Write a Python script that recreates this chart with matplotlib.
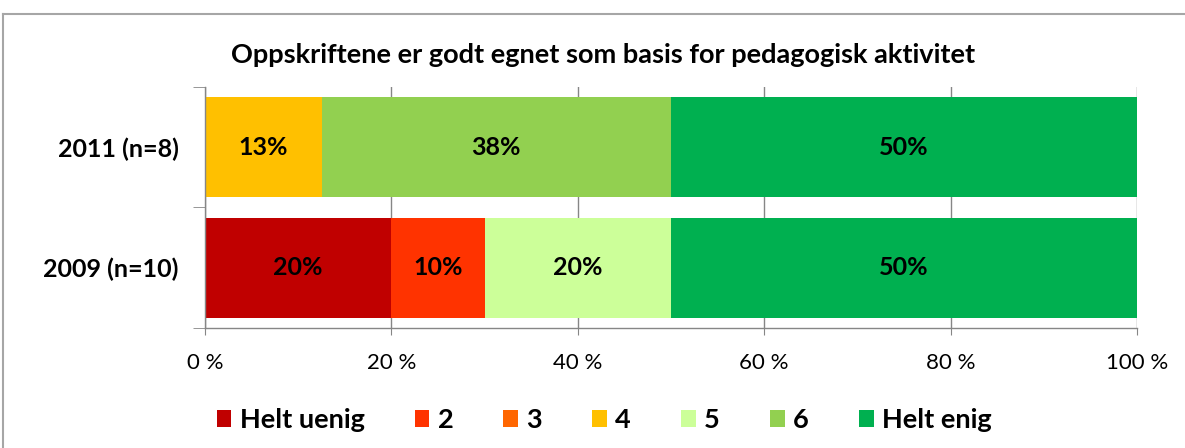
import matplotlib
matplotlib.use("Agg")
import matplotlib.pyplot as plt
from matplotlib.lines import Line2D
import numpy as np

plt.rcParams['font.family'] = ['Lato', 'DejaVu Sans']

title = "Oppskriftene er godt egnet som basis for pedagogisk aktivitet"
categories = ["2009 (n=10)", "2011 (n=8)"]
series = ["Helt uenig", "2", "3", "4", "5", "6", "Helt enig"]
values_2009 = [20, 10, 0, 0, 20, 0, 50]
values_2011 = [0, 0, 0, 12.5, 0, 37.5, 50]
colors = ["#C00000", "#FF3300", "#FF6600", "#FFC000", "#CCFF99", "#92D050", "#00B050"]
xticks = [0, 20, 40, 60, 80, 100]
xticklabels = ["0 %", "20 %", "40 %", "60 %", "80 %", "100 %"]

data = np.array([values_2009, values_2011])

fig = plt.figure(figsize=(11.85, 4.48), dpi=100)
ax = fig.add_axes([205/1185, 1-328/448, (1137-205)/1185, (328-87)/448])

y = np.arange(len(categories))
left = np.zeros(len(categories))
for i, name in enumerate(series):
    vals = data[:, i]
    ax.barh(y, vals, left=left, height=0.83, color=colors[i], label=name, zorder=2)
    for j, v in enumerate(vals):
        if v > 0:
            ax.text(left[j] + v/2, y[j], f"{int(v + 0.5)}%", ha='center', va='center',
                    fontsize=18, fontweight='bold', color='black', zorder=3)
    left += vals

ax.set_xlim(0, 100)
ax.set_ylim(-0.5, 1.5)
ax.set_xticks(xticks)
ax.set_xticklabels(xticklabels, fontsize=16)
ax.xaxis.grid(True, color='#868686', linewidth=1, zorder=0)
ax.set_axisbelow(True)
ax.tick_params(axis='x', length=5, color='#868686', pad=13)
ax.set_yticks(y)
ax.set_yticklabels(categories, fontsize=18, fontweight='bold')
ax.set_yticks([-0.5, 0.5, 1.5], minor=True)
ax.tick_params(axis='y', which='major', length=0, pad=19)
ax.tick_params(axis='y', which='minor', length=9, color='#868686')
for s in ['top', 'right']:
    ax.spines[s].set_visible(False)
for s in ['left', 'bottom']:
    ax.spines[s].set_color('#868686')
    ax.spines[s].set_linewidth(1)

fig.text(603/1185, 1-55/448, title, ha='center', va='center', fontsize=19.5, fontweight='bold')

leg = fig.legend(loc='center', bbox_to_anchor=(604/1185, 1-420/448), ncol=7, frameon=False,
                 prop={'size': 19.5, 'weight': 'bold'}, handlelength=0.55, handleheight=0.55,
                 handletextpad=0.3, columnspacing=1.85)

# outer chart frame
fig.add_artist(Line2D([3/1185, 3/1185], [0, 1-14/448], transform=fig.transFigure, color='#A6A6A6', linewidth=1.5))
fig.add_artist(Line2D([3/1185, 1], [1-14/448, 1-14/448], transform=fig.transFigure, color='#A6A6A6', linewidth=1.5))

fig.savefig("out.png", dpi=100)
